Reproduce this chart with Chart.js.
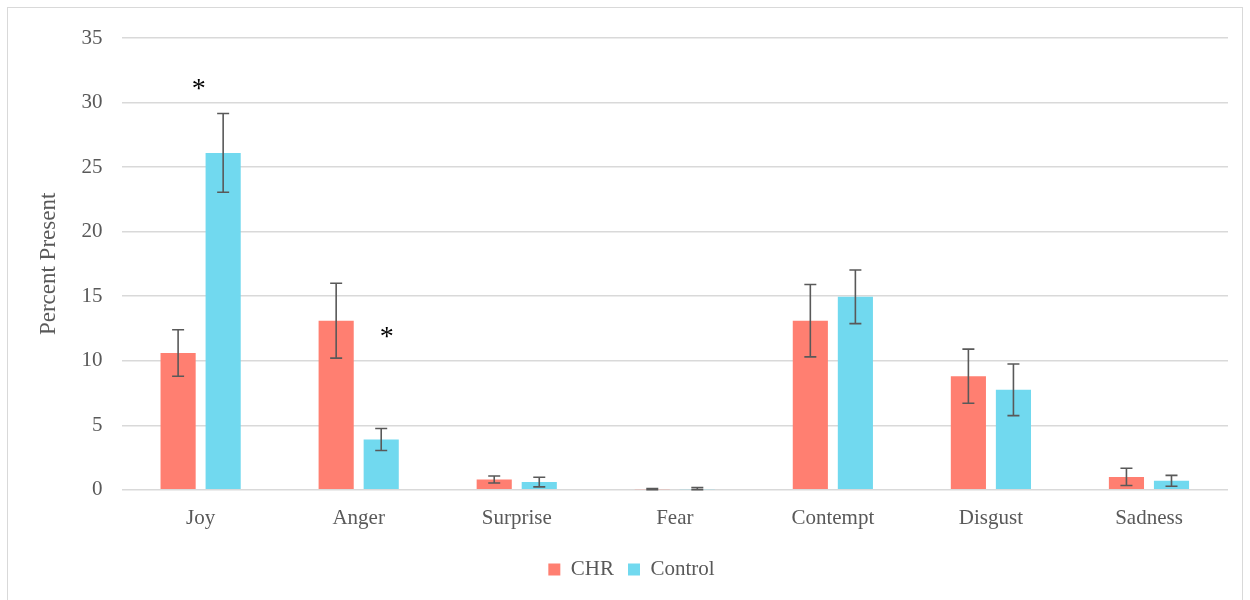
<!DOCTYPE html>
<html>
<head>
<meta charset="utf-8">
<script src="https://cdn.jsdelivr.net/npm/chart.js@4.4.1/dist/chart.umd.min.js"></script>
<style>
  body { margin: 0; background: #fff; }
  #wrap { position: relative; width: 1250px; height: 600px; }
  #frame { position: absolute; left: 7px; top: 7px; width: 1236px; height: 600px; border: 1px solid #d9d9d9; box-sizing: border-box; }
  canvas { position: absolute; left: 0; top: 0; }
</style>
</head>
<body>
<div id="wrap">
  <div id="frame"></div>
  <canvas id="chart" width="1250" height="600"></canvas>
</div>
<script>
const emotions = ['Joy', 'Anger', 'Surprise', 'Fear', 'Contempt', 'Disgust', 'Sadness'];
const chrValues = [10.6, 13.1, 0.8, 0.05, 13.1, 8.8, 1.0];
const chrErrors = [1.8, 2.9, 0.27, 0.05, 2.8, 2.1, 0.67];
const controlValues = [26.1, 3.9, 0.6, 0.05, 14.95, 7.75, 0.7];
const controlErrors = [3.05, 0.85, 0.37, 0.12, 2.08, 2.0, 0.42];
// significance markers: category index, y value, pixel nudge
const stars = [
  { cat: 0, y: 31.4, dx: -2 },
  { cat: 1, y: 12.2, dx: 28 }
];

const errorBars = {
  id: 'errorBars',
  afterDatasetsDraw(chart) {
    const ctx = chart.ctx;
    const y = chart.scales.y;
    ctx.save();
    ctx.strokeStyle = '#595959';
    ctx.lineWidth = 1.6;
    chart.data.datasets.forEach((ds, i) => {
      const meta = chart.getDatasetMeta(i);
      meta.data.forEach((bar, j) => {
        const v = ds.data[j], e = ds.errors[j];
        const top = y.getPixelForValue(v + e);
        const bot = y.getPixelForValue(Math.max(0, v - e));
        ctx.beginPath();
        ctx.moveTo(bar.x, top); ctx.lineTo(bar.x, bot);
        ctx.moveTo(bar.x - 6, top); ctx.lineTo(bar.x + 6, top);
        ctx.moveTo(bar.x - 6, bot); ctx.lineTo(bar.x + 6, bot);
        ctx.stroke();
      });
    });
    ctx.fillStyle = '#000';
    ctx.font = '28px "Liberation Serif"';
    ctx.textAlign = 'center';
    ctx.textBaseline = 'middle';
    stars.forEach(s => {
      ctx.fillText('*', chart.scales.x.getPixelForValue(s.cat) + s.dx, y.getPixelForValue(s.y) + 5);
    });
    ctx.restore();
  }
};

new Chart(document.getElementById('chart'), {
  type: 'bar',
  data: {
    labels: emotions,
    datasets: [
      { label: 'CHR', data: chrValues, errors: chrErrors, backgroundColor: '#FF7F71' },
      { label: 'Control', data: controlValues, errors: controlErrors, backgroundColor: '#71D9EF' }
    ]
  },
  options: {
    responsive: false,
    animation: false,
    categoryPercentage: 0.57,
    barPercentage: 0.78,
    layout: { padding: { top: 38, right: 22, left: 35, bottom: 10 } },
    plugins: {
      legend: {
        position: 'bottom',
        labels: {
          boxWidth: 12, boxHeight: 12, padding: 14, color: '#595959',
          font: { family: 'Liberation Serif', size: 21 }
        }
      },
      tooltip: { enabled: false }
    },
    scales: {
      x: {
        grid: { display: false },
        border: { display: false },
        afterFit(scale) { scale.height += 6; },
        ticks: { color: '#595959', padding: 8, font: { family: 'Liberation Serif', size: 21 } }
      },
      y: {
        min: 0, max: 35,
        ticks: { stepSize: 5, color: '#595959', padding: 19, font: { family: 'Liberation Serif', size: 21 } },
        grid: { color: '#d9d9d9', lineWidth: 1.5, drawTicks: false },
        border: { display: false },
        title: { display: true, text: 'Percent Present', color: '#595959', padding: 0, font: { family: 'Liberation Serif', size: 23 } }
      }
    }
  },
  plugins: [errorBars]
});
</script>
</body>
</html>
